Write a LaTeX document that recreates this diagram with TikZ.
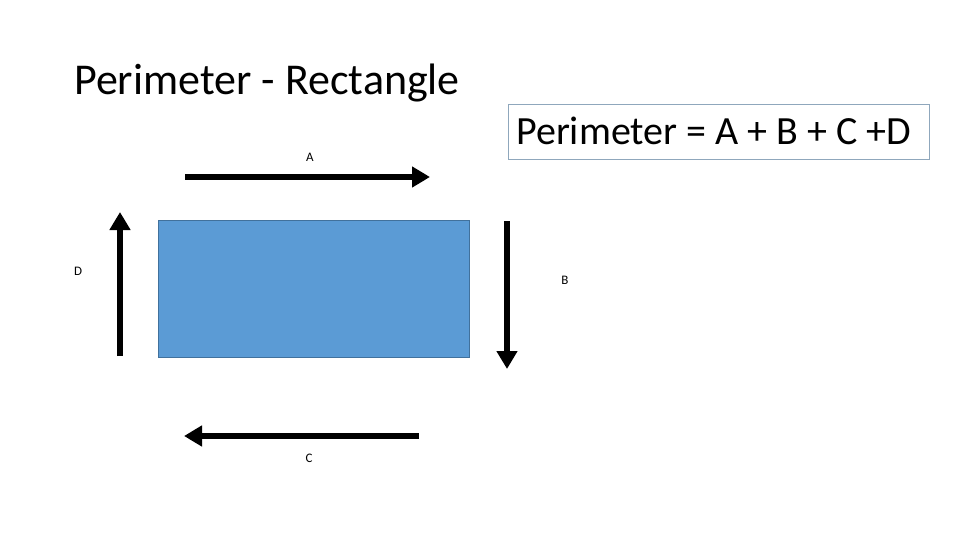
\documentclass[tikz,border=0pt]{standalone}
\usepackage{fontspec}
\setmainfont{Carlito}
\usetikzlibrary{arrows.meta}
\definecolor{rectfill}{HTML}{5B9BD5}
\definecolor{rectedge}{HTML}{41719C}
\definecolor{boxedge}{HTML}{8FA7BC}
\tikzset{
  side/.style={line width=5.5pt, -{Triangle[length=18pt,width=20pt]}},
  lbl/.style={font=\fontsize{13}{15}\selectfont, inner sep=0pt}
}
\begin{document}
\begin{tikzpicture}[x=1pt,y=-1pt]
\useasboundingbox (0,0) rectangle (960,540);
\node[anchor=base west, inner sep=0pt, font=\fontsize{44}{52}\selectfont] (title) at (74,95) {Perimeter - Rectangle};
\node[draw=boxedge, line width=1pt, minimum width=421pt, minimum height=55pt, inner sep=0pt] (formula) at (718.5,132.5) {};
\node[anchor=base west, inner sep=0pt, font=\fontsize{40}{46}\selectfont] (ftext) at (516,145) {Perimeter = A + B + C +D};
\node[draw=rectedge, line width=1pt, fill=rectfill, minimum width=311pt, minimum height=137pt, inner sep=0pt] (rect) at (313.5,288.5) {};
\coordinate (a1) at (185,177);
\coordinate (a2) at (430,177);
\coordinate (b1) at (507,221);
\coordinate (b2) at (507,369);
\coordinate (c1) at (419,436);
\coordinate (c2) at (184,436);
\coordinate (d1) at (120,356);
\coordinate (d2) at (120,212);
\draw[side] (a1) -- (a2);
\draw[side] (b1) -- (b2);
\draw[side] (c1) -- (c2);
\draw[side] (d1) -- (d2);
\node[lbl] (la) at (310,157) {A};
\node[lbl] (lb) at (565,280) {B};
\node[lbl] (lc) at (309,458) {C};
\node[lbl] (ld) at (78,271) {D};
\end{tikzpicture}
\end{document}
